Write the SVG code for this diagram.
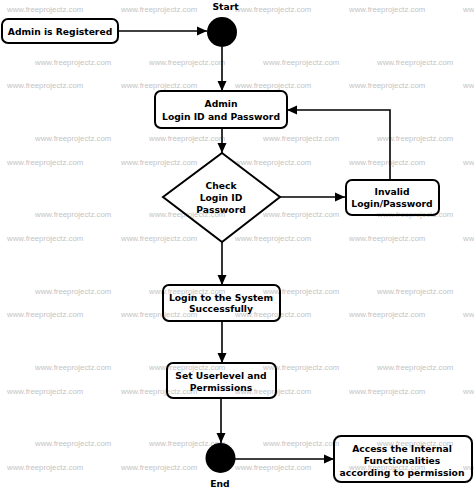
<svg xmlns="http://www.w3.org/2000/svg" width="474" height="489" viewBox="0 0 474 489">
<style>
.wm{font-family:"Liberation Sans",Arial,sans-serif;font-size:7.8px;fill:#c4c4c4}
.box{fill:none;stroke:#000;stroke-width:2}
.t{font-family:"DejaVu Sans",sans-serif;font-weight:bold;font-size:9.2px;fill:#000;text-anchor:middle}
.ln{fill:none;stroke:#000;stroke-width:1.6}
</style>
<defs>
<marker id="ah" viewBox="0 0 10 10" refX="10" refY="5" markerWidth="10" markerHeight="10" markerUnits="userSpaceOnUse" orient="auto">
<path d="M0,0.5 L10,5 L0,9.5 Z" fill="#000"/>
</marker>
</defs>
<rect width="474" height="489" fill="#fff"/>
<g id="watermark">
<text class="wm" x="7" y="12">www.freeprojectz.com</text><text class="wm" x="121" y="12">www.freeprojectz.com</text><text class="wm" x="235" y="12">www.freeprojectz.com</text><text class="wm" x="349" y="12">www.freeprojectz.com</text><text class="wm" x="463" y="12">www.freeprojectz.com</text>
<text class="wm" x="35" y="65">www.freeprojectz.com</text><text class="wm" x="149" y="65">www.freeprojectz.com</text><text class="wm" x="263" y="65">www.freeprojectz.com</text><text class="wm" x="377" y="65">www.freeprojectz.com</text>
<text class="wm" x="7" y="88">www.freeprojectz.com</text><text class="wm" x="121" y="88">www.freeprojectz.com</text><text class="wm" x="235" y="88">www.freeprojectz.com</text><text class="wm" x="349" y="88">www.freeprojectz.com</text><text class="wm" x="463" y="88">www.freeprojectz.com</text>
<text class="wm" x="35" y="141">www.freeprojectz.com</text><text class="wm" x="149" y="141">www.freeprojectz.com</text><text class="wm" x="263" y="141">www.freeprojectz.com</text><text class="wm" x="377" y="141">www.freeprojectz.com</text>
<text class="wm" x="7" y="165">www.freeprojectz.com</text><text class="wm" x="121" y="165">www.freeprojectz.com</text><text class="wm" x="235" y="165">www.freeprojectz.com</text><text class="wm" x="349" y="165">www.freeprojectz.com</text><text class="wm" x="463" y="165">www.freeprojectz.com</text>
<text class="wm" x="35" y="217">www.freeprojectz.com</text><text class="wm" x="149" y="217">www.freeprojectz.com</text><text class="wm" x="263" y="217">www.freeprojectz.com</text><text class="wm" x="377" y="217">www.freeprojectz.com</text>
<text class="wm" x="7" y="241">www.freeprojectz.com</text><text class="wm" x="121" y="241">www.freeprojectz.com</text><text class="wm" x="235" y="241">www.freeprojectz.com</text><text class="wm" x="349" y="241">www.freeprojectz.com</text><text class="wm" x="463" y="241">www.freeprojectz.com</text>
<text class="wm" x="35" y="294">www.freeprojectz.com</text><text class="wm" x="149" y="294">www.freeprojectz.com</text><text class="wm" x="263" y="294">www.freeprojectz.com</text><text class="wm" x="377" y="294">www.freeprojectz.com</text>
<text class="wm" x="7" y="317">www.freeprojectz.com</text><text class="wm" x="121" y="317">www.freeprojectz.com</text><text class="wm" x="235" y="317">www.freeprojectz.com</text><text class="wm" x="349" y="317">www.freeprojectz.com</text><text class="wm" x="463" y="317">www.freeprojectz.com</text>
<text class="wm" x="35" y="370">www.freeprojectz.com</text><text class="wm" x="149" y="370">www.freeprojectz.com</text><text class="wm" x="263" y="370">www.freeprojectz.com</text><text class="wm" x="377" y="370">www.freeprojectz.com</text>
<text class="wm" x="7" y="394">www.freeprojectz.com</text><text class="wm" x="121" y="394">www.freeprojectz.com</text><text class="wm" x="235" y="394">www.freeprojectz.com</text><text class="wm" x="349" y="394">www.freeprojectz.com</text><text class="wm" x="463" y="394">www.freeprojectz.com</text>
<text class="wm" x="35" y="446">www.freeprojectz.com</text><text class="wm" x="149" y="446">www.freeprojectz.com</text><text class="wm" x="263" y="446">www.freeprojectz.com</text><text class="wm" x="377" y="446">www.freeprojectz.com</text>
<text class="wm" x="7" y="470">www.freeprojectz.com</text><text class="wm" x="121" y="470">www.freeprojectz.com</text><text class="wm" x="235" y="470">www.freeprojectz.com</text><text class="wm" x="349" y="470">www.freeprojectz.com</text><text class="wm" x="463" y="470">www.freeprojectz.com</text>
</g>
<g id="connectors">
<line class="ln" x1="118" y1="31" x2="207" y2="31" marker-end="url(#ah)"/>
<line class="ln" x1="222" y1="47" x2="222" y2="91" marker-end="url(#ah)"/>
<line class="ln" x1="222" y1="128" x2="222" y2="153" marker-end="url(#ah)"/>
<line class="ln" x1="280" y1="197" x2="345" y2="197" marker-end="url(#ah)"/>
<polyline class="ln" points="390,180 390,110 287,110" marker-end="url(#ah)"/>
<line class="ln" x1="222" y1="242" x2="222" y2="285" marker-end="url(#ah)"/>
<line class="ln" x1="222" y1="321" x2="222" y2="363" marker-end="url(#ah)"/>
<line class="ln" x1="221" y1="398" x2="221" y2="443" marker-end="url(#ah)"/>
<line class="ln" x1="235" y1="459" x2="334" y2="459" marker-end="url(#ah)"/>
</g>
<g id="admin-registered">
<rect class="box" x="2" y="19" width="116" height="24" rx="6"/>
<text class="t" x="60" y="34.5">Admin is Registered</text>
</g>
<g id="start">
<circle cx="222" cy="32" r="15" fill="#000"/>
<text class="t" x="225.5" y="10">Start</text>
</g>
<g id="admin-login">
<rect class="box" x="155" y="91" width="132" height="37" rx="6"/>
<text class="t" x="221" y="107">Admin</text>
<text class="t" x="221" y="120">Login ID and Password</text>
</g>
<g id="check">
<polygon class="box" points="222,153 280,197 222,242 163,197"/>
<text class="t" x="221" y="189">Check</text>
<text class="t" x="221" y="201">Login ID</text>
<text class="t" x="221" y="213">Password</text>
</g>
<g id="invalid">
<rect class="box" x="346" y="180" width="93" height="35" rx="6"/>
<text class="t" x="392" y="195">Invalid</text>
<text class="t" x="392" y="207">Login/Password</text>
</g>
<g id="login-success">
<rect class="box" x="163" y="285" width="117" height="36" rx="6"/>
<text class="t" x="221" y="300.5">Login to the System</text>
<text class="t" x="221" y="311.5">Successfully</text>
</g>
<g id="set-userlevel">
<rect class="box" x="167" y="363" width="109" height="35" rx="6"/>
<text class="t" x="221" y="378.5">Set Userlevel and</text>
<text class="t" x="221" y="390.5">Permissions</text>
</g>
<g id="end">
<circle cx="220.5" cy="458" r="15" fill="#000"/>
<text class="t" x="220" y="486.5">End</text>
</g>
<g id="access">
<rect class="box" x="334" y="436" width="138" height="46" rx="7"/>
<text class="t" x="402" y="451.5">Access the Internal</text>
<text class="t" x="402" y="463.5">Functionalities</text>
<text class="t" x="402" y="475.5">according to permission</text>
</g>
</svg>
